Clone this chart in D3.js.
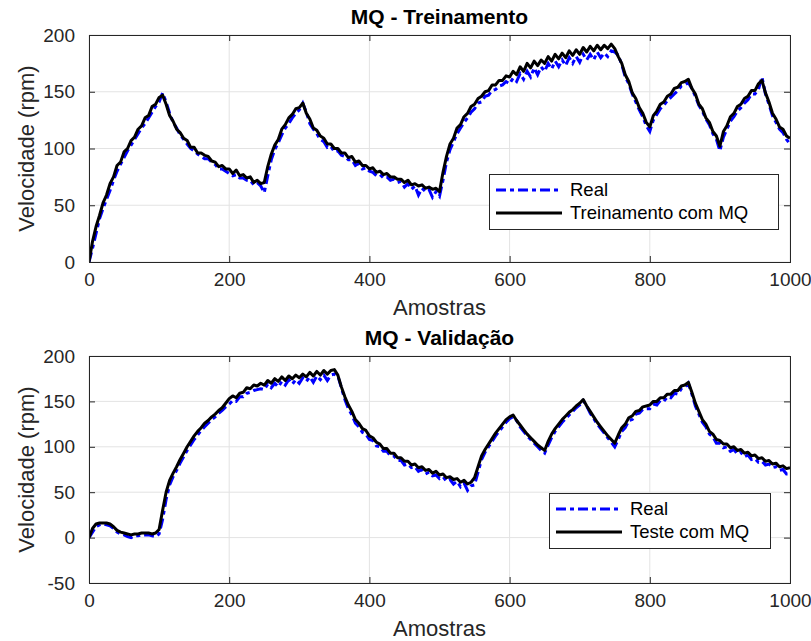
<!DOCTYPE html>
<html>
<head>
<meta charset="utf-8">
<script src="https://cdn.jsdelivr.net/npm/d3@7/dist/d3.min.js"></script>
<style>
  body { margin: 0; background: #fff; }
  text { font-family: "Liberation Sans", Arial, Helvetica, sans-serif; fill: #262626; }
</style>
</head>
<body>
<script>
// one value every 5 samples
var sampleStep = 5;
var xTicks = [0, 200, 400, 600, 800, 1000];
var yTicksTreino = [0, 50, 100, 150, 200];
var yTicksValid = [-50, 0, 50, 100, 150, 200];

var realTreino = [
  0,12,25,38,47,55,63,72,80,86,
  92,98,103,108,113,118,122,127,132,137,
  141,149,141,131,123,118,112,108,104,100,
  98,95,93,91,91,88,86,82,82,80,
  78,76,77,74,74,72,72,68,70,67,
  61,76,90,99,105,112,118,122,127,131,
  134,140,132,122,117,113,108,106,101,102,
  97,98,94,93,90,90,85,87,82,83,
  80,79,76,77,74,75,72,73,70,71,
  66,69,64,67,59,65,62,64,57,62,
  58,72,88,99,106,113,118,123,127,132,
  135,140,141,146,147,151,152,155,156,159,
  157,162,159,166,161,168,163,171,165,172,
  168,175,170,177,172,178,173,180,175,181,
  176,183,178,183,178,185,180,184,181,186,
  185,182,174,163,157,148,141,134,128,120,
  115,125,130,135,138,142,145,148,151,155,
  156,158,153,146,138,133,126,121,113,108,
  98,110,117,124,128,133,136,140,143,148,
  148,152,163,148,139,129,123,117,114,108,
  104
];
var mqTreino = [
  0,18,31,41,52,59,69,75,85,88,
  97,100,107,110,117,120,127,129,137,139,
  145,147,139,129,124,117,114,109,107,101,
  101,96,96,94,93,89,88,84,85,82,
  82,78,81,76,77,74,75,70,72,69,
  70,84,95,103,108,117,121,127,130,135,
  136,140,131,126,118,116,111,109,104,104,
  100,100,96,96,92,93,88,89,85,85,
  82,83,79,80,77,78,75,75,73,73,
  70,72,68,69,67,68,65,66,64,65,
  62,79,93,104,109,118,121,128,131,137,
  139,144,146,150,151,156,156,160,160,164,
  163,168,165,172,168,175,171,177,173,178,
  175,181,177,183,179,184,180,186,182,187,
  183,189,185,190,186,191,187,191,188,192,
  188,181,175,165,159,149,144,136,131,123,
  119,129,133,139,141,146,148,153,154,158,
  159,161,153,148,139,135,127,123,115,111,
  102,115,120,128,131,137,139,144,146,151,
  151,157,160,149,141,131,126,119,117,111,
  109
];
var realValid = [
  0,6,12,14,15,14,13,10,6,4,
  3,1,0,2,2,3,3,3,2,1,
  4,20,42,58,67,74,82,89,96,102,
  108,113,118,122,126,130,133,137,140,144,
  147,151,150,155,155,159,160,162,163,164,
  163,169,165,170,166,172,168,174,169,174,
  170,176,172,177,171,178,174,179,173,179,
  180,178,165,152,142,135,126,122,116,114,
  108,107,101,100,95,95,90,90,85,85,
  80,81,77,78,73,75,70,72,68,69,
  65,67,62,64,59,62,56,60,52,57,
  58,72,86,94,100,106,112,117,122,127,
  131,133,129,122,117,112,108,104,100,96,
  93,102,110,117,122,127,131,135,139,143,
  146,151,145,137,131,125,120,115,110,105,
  100,108,117,121,129,130,136,137,141,142,
  142,147,146,151,150,155,154,159,158,164,
  165,170,158,145,136,127,122,114,111,104,
  104,99,100,95,97,92,94,89,91,86,
  87,83,84,80,81,77,78,74,75,70,
  70
];
var mqValid = [
  0,10,15,16,16,16,15,12,8,6,
  5,4,3,4,4,5,5,5,4,5,
  9,30,50,63,71,78,86,93,100,106,
  112,117,121,126,129,133,136,140,143,148,
  153,156,154,159,160,165,164,168,167,170,
  168,173,170,175,172,177,173,178,175,179,
  176,180,177,182,178,183,179,184,180,184,
  185,179,166,155,146,139,130,126,120,118,
  112,110,105,103,98,98,93,93,88,88,
  84,84,80,81,77,78,74,75,71,73,
  69,70,66,67,64,65,61,63,59,61,
  66,78,90,97,103,109,115,120,125,130,
  133,135,129,124,119,114,110,106,102,99,
  96,106,114,120,125,130,134,138,141,145,
  148,152,145,139,133,127,122,117,112,108,
  104,113,121,125,132,134,139,140,144,145,
  146,150,150,154,154,158,158,162,162,167,
  168,171,160,148,139,130,125,117,114,108,
  107,103,103,99,100,96,97,93,94,90,
  91,87,88,84,85,81,82,78,79,76,
  77
];

var svg = d3.select("body").append("svg")
  .attr("width", 811).attr("height", 641);

function panel(o) {
  var left = 89, right = 790;
  var x = d3.scaleLinear().domain([0, 1000]).range([left, right]);
  var y = d3.scaleLinear().domain(o.yDomain).range([o.bottom, o.top]);
  var g = svg.append("g");

  // grid
  g.selectAll("line.gx").data(xTicks).enter().append("line")
    .attr("x1", x).attr("x2", x).attr("y1", o.top).attr("y2", o.bottom)
    .style("stroke", "#e3e3e3").style("stroke-width", 1);
  g.selectAll("line.gy").data(o.yTicks).enter().append("line")
    .attr("x1", left).attr("x2", right)
    .attr("y1", function(d) { return y(d); }).attr("y2", function(d) { return y(d); })
    .style("stroke", "#e3e3e3").style("stroke-width", 1);

  var clipId = "clip" + o.top;
  svg.append("clipPath").attr("id", clipId).append("rect")
    .attr("x", left).attr("y", o.top).attr("width", right - left).attr("height", o.bottom - o.top);

  var line = d3.line()
    .x(function(d, i) { return x(i * sampleStep); })
    .y(function(d) { return y(d); });

  g.append("path").datum(o.real)
    .attr("clip-path", "url(#" + clipId + ")")
    .attr("d", line)
    .style("fill", "none").style("stroke", "#0000ff").style("stroke-width", 3)
    .style("stroke-dasharray", "10,4,4,4");
  g.append("path").datum(o.mq)
    .attr("clip-path", "url(#" + clipId + ")")
    .attr("d", line)
    .style("fill", "none").style("stroke", "#000").style("stroke-width", 3)
    .style("stroke-linejoin", "round");

  // axes, ticks pointing inward like matlab
  function styleAxis(sel) {
    sel.select(".domain").remove();
    sel.selectAll(".tick line").style("stroke", "#262626");
    sel.selectAll("text").style("font-size", "19px").style("fill", "#262626")
      .style("font-family", "'Liberation Sans', Arial, sans-serif");
  }
  var plain = function(d) { return String(d); };
  g.append("g").attr("transform", "translate(0," + o.bottom + ")")
    .call(d3.axisBottom(x).tickValues(xTicks).tickSize(-6).tickPadding(11).tickFormat(plain))
    .call(styleAxis);
  g.append("g").attr("transform", "translate(0," + o.top + ")")
    .call(d3.axisTop(x).tickValues(xTicks).tickSize(-6).tickFormat(""))
    .call(styleAxis);
  g.append("g").attr("transform", "translate(" + left + ",0)")
    .call(d3.axisLeft(y).tickValues(o.yTicks).tickSize(-6).tickPadding(14).tickFormat(plain))
    .call(styleAxis);
  g.append("g").attr("transform", "translate(" + right + ",0)")
    .call(d3.axisRight(y).tickValues(o.yTicks).tickSize(-6).tickFormat(""))
    .call(styleAxis);

  g.append("rect")
    .attr("x", left + 0.5).attr("y", o.top + 0.5)
    .attr("width", right - left).attr("height", o.bottom - o.top)
    .style("fill", "none").style("stroke", "#262626").style("stroke-width", 1);

  // labels
  g.append("text").attr("x", (left + right) / 2).attr("y", o.top - 11)
    .attr("text-anchor", "middle").style("font-size", "21px").style("font-weight", "bold")
    .style("fill", "#000").text(o.title);
  g.append("text").attr("x", (left + right) / 2).attr("y", o.bottom + 53)
    .attr("text-anchor", "middle").style("font-size", "22px").text("Amostras");
  g.append("text")
    .attr("transform", "translate(34," + (o.top + o.bottom) / 2 + ") rotate(-90)")
    .attr("text-anchor", "middle").style("font-size", "22px").text("Velocidade (rpm)");

  // legend
  var lg = g.append("g").attr("transform", "translate(" + o.legend[0] + "," + o.legend[1] + ")");
  lg.append("rect").attr("x", 0.5).attr("y", 0.5)
    .attr("width", o.legend[2]).attr("height", 55)
    .style("fill", "#fff").style("stroke", "#262626").style("stroke-width", 1);
  var items = [
    { name: "Real", color: "#0000ff", dash: "10,4,4,4" },
    { name: o.mqName, color: "#000", dash: null }
  ];
  var rows = lg.selectAll("g.item").data(items).enter().append("g")
    .attr("transform", function(d, i) { return "translate(0," + (16 + i * 23) + ")"; });
  rows.append("line").attr("x1", 7).attr("x2", 73).attr("y1", 0).attr("y2", 0)
    .style("stroke", function(d) { return d.color; }).style("stroke-width", 3)
    .style("stroke-dasharray", function(d) { return d.dash; });
  rows.append("text").attr("x", 81).attr("y", 0).attr("dy", "0.35em")
    .style("font-size", "18.5px").style("fill", "#000").text(function(d) { return d.name; });
}

panel({
  title: "MQ - Treinamento", top: 35, bottom: 262, yDomain: [0, 200], yTicks: yTicksTreino,
  real: realTreino, mq: mqTreino, mqName: "Treinamento com MQ", legend: [489, 174, 289]
});
panel({
  title: "MQ - Validação", top: 356, bottom: 583, yDomain: [-50, 200], yTicks: yTicksValid,
  real: realValid, mq: mqValid, mqName: "Teste com MQ", legend: [549, 493, 221]
});
</script>
</body>
</html>
